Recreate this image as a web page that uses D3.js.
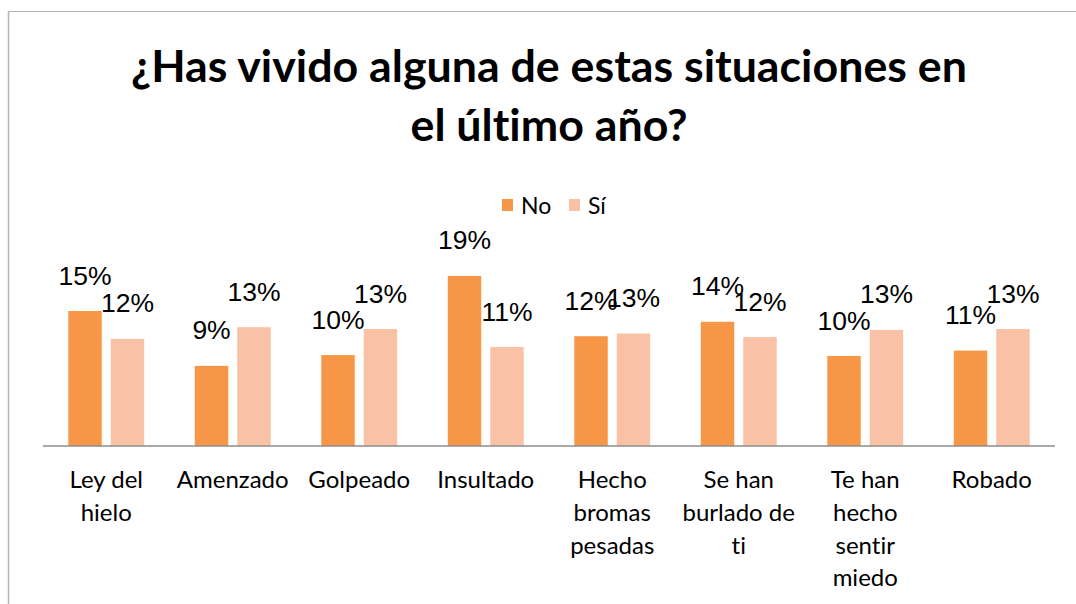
<!DOCTYPE html>
<html>
<head>
<meta charset="utf-8">
<script src="https://cdn.jsdelivr.net/npm/d3@7"></script>
<style>
  html, body { margin: 0; padding: 0; background: #fff; }
  svg { display: block; }
  text { font-variant-ligatures: none; font-feature-settings: "liga" 0; }
</style>
</head>
<body>
<svg id="chart" width="1076" height="604"></svg>
<script>
// ---- data ----
const categories = ["Ley del hielo", "Amenzado", "Golpeado", "Insultado", "Hecho bromas pesadas", "Se han burlado de ti", "Te han hecho sentir miedo", "Robado"];
const seriesNames = ["No", "Sí"];
const valuesNo = [15.0, 8.9, 10.1, 18.9, 12.2, 13.8, 10.0, 10.6];
const valuesSi = [11.9, 13.2, 13.0, 11.0, 12.5, 12.1, 12.9, 13.0];
const titleLines = ["¿Has vivido alguna de estas situaciones en", "el último año?"];
const colors = { "No": "#F79646", "Sí": "#F9C1A6" };

const svg = d3.select("#chart");
const W = 1076, H = 604;

// frame (chart area border)
svg.append("line").attr("x1", 8.5).attr("x2", W).attr("y1", 11.5).attr("y2", 11.5)
  .attr("stroke", "#b3b3b3").attr("stroke-width", 1.2);
svg.append("line").attr("x1", 8.5).attr("x2", 8.5).attr("y1", 11.5).attr("y2", H)
  .attr("stroke", "#b3b3b3").attr("stroke-width", 1.5);

// title (font size fitted so the first line spans the reference width)
const titleBaselines = [82, 141];
const titleEls = titleLines.map((t, i) => svg.append("text").attr("x", 549).attr("y", titleBaselines[i])
  .attr("text-anchor", "middle").attr("font-family", "Lato, sans-serif")
  .attr("font-weight", "bold").attr("font-size", 40).attr("fill", "#000").text(t));
const w0 = titleEls[0].node().getComputedTextLength();
const tfs = 40 * 836 / w0;
titleEls.forEach(el => el.attr("font-size", tfs));

// scales
const x = d3.scaleBand().domain(categories).range([43, 1055]).paddingInner(0.4).paddingOuter(0.2);
const xInner = d3.scaleBand().domain(seriesNames).range([0, x.bandwidth()]).paddingInner(0.212);
const y = d3.scaleLinear().domain([0, 20]).range([446, 266]);

const data = categories.map((c, i) => ({ cat: c, vals: [
  { s: "No", v: valuesNo[i] }, { s: "Sí", v: valuesSi[i] } ] }));

const g = svg.append("g");
const groups = g.selectAll("g.cat").data(data).join("g")
  .attr("transform", d => `translate(${x(d.cat)},0)`);

groups.selectAll("rect").data(d => d.vals).join("rect")
  .attr("x", d => xInner(d.s)).attr("width", xInner.bandwidth())
  .attr("y", d => y(d.v)).attr("height", d => y(0) - y(d.v))
  .attr("fill", d => colors[d.s]);

groups.selectAll("text.lbl").data(d => d.vals).join("text").attr("class", "lbl")
  .attr("x", d => xInner(d.s) + xInner.bandwidth() / 2)
  .attr("y", d => y(d.v) - 26.5)
  .attr("text-anchor", "middle")
  .attr("font-family", "'Liberation Sans', Arial, sans-serif")
  .attr("font-size", 26.5).attr("fill", "#000")
  .text(d => Math.round(d.v) + "%");

// x axis
const xAxis = d3.axisBottom(x).tickSize(0).tickPadding(0);
const axG = svg.append("g").attr("transform", `translate(0,${y(0)})`).call(xAxis);
axG.select(".domain").attr("stroke", "#8c8c8c").attr("stroke-width", 1.5)
  .attr("d", "M43,0H1055");
axG.selectAll(".tick text").remove();

// category labels with wrapping
const catLabels = svg.append("g");
categories.forEach(c => {
  const cx = x(c) + x.bandwidth() / 2;
  const t = catLabels.append("text").attr("text-anchor", "middle")
    .attr("font-family", "Lato, sans-serif").attr("font-size", 24).attr("fill", "#000");
  const words = c.split(" ");
  let lines = [], cur = [];
  const probe = t.append("tspan");
  words.forEach(w => {
    const test = cur.concat([w]).join(" ");
    probe.text(test);
    if (cur.length && probe.node().getComputedTextLength() > 120) {
      lines.push(cur.join(" ")); cur = [w];
    } else cur.push(w);
  });
  if (cur.length) lines.push(cur.join(" "));
  probe.remove();
  lines.forEach((ln, i) => {
    t.append("tspan").attr("x", cx).attr("y", 488 + i * 32.8).text(ln);
  });
});

// legend
const legend = svg.append("g").attr("font-family", "Lato, sans-serif").attr("font-size", 23);
const legX = { "No": 502, "Sí": 569 };
seriesNames.forEach(s => {
  legend.append("rect").attr("x", legX[s]).attr("y", 199).attr("width", 11).attr("height", 12)
    .attr("fill", colors[s]);
  legend.append("text").attr("x", legX[s] + 19).attr("y", 213.5).attr("fill", "#000").text(s);
});
</script>
</body>
</html>
